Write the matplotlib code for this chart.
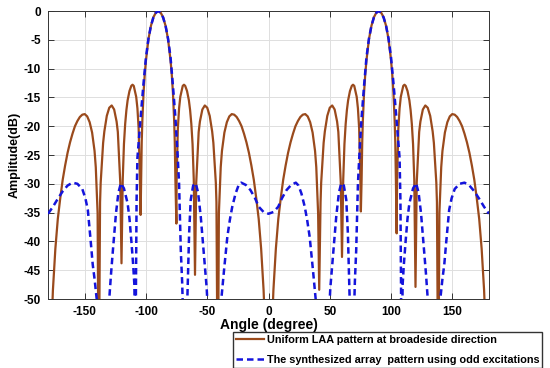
import matplotlib
matplotlib.use("Agg")
import matplotlib.pyplot as plt

# uniform LAA pattern at broadside (dB)
uni_ang = [-180, -178, -176, -174, -172, -170, -168, -166, -164, -162, -160, -158, -156, -154,
           -152, -150, -148, -146, -144, -142, -141, -139.5, -138.6, -137.5, -137, -135, -134,
           -132, -130, -128, -126, -124, -123, -121, -120, -119, -118, -117, -116, -115, -113.5,
           -112, -111, -110, -108, -107, -106, -105, -104.4, -104, -103.5, -103, -102, -101, -100,
           -98, -96, -94, -92, -90, -88, -86, -84, -82, -80, -79, -78, -77, -76.5, -76, -75.2,
           -75, -74, -73, -72, -70, -69, -68, -66.5, -65, -64, -63, -62, -61, -60, -59, -57, -56,
           -54, -52, -50, -48, -46, -45, -43, -42.5, -41.4, -40.5, -39, -38, -36, -34, -32, -30,
           -28, -26, -24, -22, -20, -18, -16, -14, -12, -10, -8, -6, -4, -2, 0,
           2, 4, 6, 8, 10, 12, 14, 16, 18, 20, 22, 24, 26, 28, 30, 32, 34, 36, 38, 39, 40.5, 41.4,
           42.5, 43, 45, 46, 48, 50, 52, 54, 56, 57, 59, 60, 61, 62, 63, 64, 65, 66.5, 68, 69, 70,
           72, 73, 74, 75, 75.4, 76, 76.5, 77, 78, 79, 80, 82, 84, 86, 88, 90, 92, 94, 96, 98, 100,
           101, 102, 103, 103.5, 104, 104.6, 105, 106, 107, 108, 110, 111, 112, 113.5, 115, 116,
           117, 118, 119, 120, 121, 123, 124, 126, 128, 130, 132, 134, 135, 137, 137.5, 138.6,
           139.5, 141, 142, 144, 146, 148, 150, 152, 154, 156, 158, 160, 162, 164, 166, 168, 170,
           172, 174, 176, 178, 180]
uni_db = [-70, -60, -48.5, -41.3, -36.1, -32.5, -29.3, -26.8, -24.6, -22.8, -21.3, -20.0, -19.1, -18.4,
          -18.0, -17.9, -18.3, -19.3, -21.1, -24.3, -27.1, -35.1, -70, -33.2, -29.8, -22.9, -20.9,
          -18.2, -16.8, -16.4, -17.1, -19.2, -21.0, -29.8, -43.8, -29.3, -23.1, -19.6, -17.2, -15.5, -13.9,
          -13.0, -12.8, -13.0, -14.9, -16.9, -20.4, -29.2, -35.4, -29.3, -22.8, -19.1, -14.2, -10.9, -8.5,
          -4.9, -2.6, -1.1, -0.3, 0, -0.3, -1.1, -2.6, -4.9, -8.5, -10.9, -14.2, -19.1, -22.8, -29.3, -36.9,
          -29.2, -20.4, -16.9, -14.9, -13.0, -12.8, -13.0, -13.9, -15.5, -17.2, -19.6, -23.1, -29.3, -45.8, -29.8, -21.0, -19.2,
          -17.1, -16.4, -16.8, -18.2, -20.9, -22.9, -29.8, -33.2, -70, -35.1, -27.1, -24.3, -21.1, -19.3, -18.3, -17.9,
          -18.0, -18.4, -19.1, -20.0, -21.3, -22.8, -24.6, -26.8, -29.3, -32.5, -36.1, -41.3, -48.5, -60, -70,
          -60, -48.5, -41.3, -36.1, -32.5, -29.3, -26.8, -24.6, -22.8, -21.3, -20.0, -19.1, -18.4, -18.0, -17.9, -18.3, -19.3, -21.1, -24.3, -27.1, -35.1, -48.4,
          -33.2, -29.8, -22.9, -20.9, -18.2, -16.8, -16.4, -17.1, -19.2, -21.0, -29.8, -42.7, -29.3, -23.1, -19.6, -17.2, -15.5, -13.9, -13.0, -12.8, -13.0,
          -14.9, -16.9, -20.4, -29.2, -34.8, -29.3, -22.8, -19.1, -14.2, -10.9, -8.5, -4.9, -2.6, -1.1, -0.3, 0, -0.3, -1.1, -2.6, -4.9, -8.5,
          -10.9, -14.2, -19.1, -22.8, -29.3, -38.6, -29.2, -20.4, -16.9, -14.9, -13.0, -12.8, -13.0, -13.9, -15.5, -17.2,
          -19.6, -23.1, -29.3, -47.9, -29.8, -21.0, -19.2, -17.1, -16.4, -16.8, -18.2, -20.9, -22.9, -29.8, -33.2, -70,
          -35.1, -27.1, -24.3, -21.1, -19.3, -18.3, -17.9, -18.0, -18.4, -19.1, -20.0, -21.3, -22.8, -24.6, -26.8, -29.3, -32.5,
          -36.1, -41.3, -48.5, -60, -70]

# synthesized array pattern with odd excitations (dB)
syn_ang = [-180, -176, -172, -168, -164, -160, -156, -152, -149.5, -147.5, -145, -143.5, -142, -140,
           -138, -135, -132, -130, -128.5, -127, -124.5, -122.5, -120.5, -118, -115, -113.5, -112,
           -110.5, -109.5, -109, -108.6, -108.2, -107.7, -107, -106, -104, -102, -100, -98, -96,
           -94, -92, -90, -88, -86, -84, -82, -80, -78, -76, -74.4, -73, -71.6, -70.5, -69.5, -68,
           -66.5, -65.5, -64.8, -63.5, -61.5, -59.4, -57.5, -55.3, -54, -52.6, -50.5, -49, -45,
           -41, -38.5, -36.3, -33.6, -31.5, -29.6, -26.9, -24.5, -22.3, -18.5, -14.7, -11, -7.9,
           -4, 0, 4, 7.9, 11, 14.7, 18.5, 22.3, 24.5, 26.9, 29.6, 31.5, 33.6, 36.3, 38.5, 41, 45,
           49, 50.5, 52.6, 54, 55.3, 57.5, 59.4, 61.5, 63.5, 64.8, 65.5, 66.5, 68, 69.5, 70.5,
           71.6, 73, 74.4, 76, 78, 80, 82, 84, 86, 88, 90, 92, 94, 96, 98, 100, 102, 104, 106, 107,
           107.7, 108.2, 108.6, 109, 109.5, 110.5, 112, 113.5, 115, 118, 120.5, 122.5, 124.5, 127,
           128.5, 130, 132, 135, 138, 140, 142, 143.5, 145, 147.5, 149.5, 152, 156, 160, 164, 168,
           172, 176, 180]
syn_db = [-35.2, -34.0, -32.6, -31.3, -30.3, -29.8, -30.0, -30.9, -32.5, -34.5, -40.3, -44.0, -46.5, -50.5,
          -58, -66, -57, -50, -45.5, -41.5, -35.1, -31.5, -29.9, -30.8, -33.4, -36.0, -39.8,
          -44.0, -47.5, -55, -65, -48, -33, -25.5, -22.8, -17.5, -12.5, -8.0, -4.8, -2.6,
          -1.15, -0.3, 0, -0.3, -1.15, -2.6, -4.8, -8.0, -13.0, -18.5, -24.1, -30, -41.5, -47, -55, -66,
          -52, -44, -38.6, -32.8, -30.3, -29.9, -31.5, -35.7, -39, -42.7, -48, -54, -66,
          -56, -50, -45, -39.2, -36.2, -34, -31.7, -30.3, -29.8, -30.2, -31.1, -32.5, -34,
          -34.9, -35.2, -34.9, -34, -32.5, -31.1, -30.2, -29.8, -30.3, -31.7, -34, -36.2, -39.2, -45, -50, -56, -66,
          -54, -48, -42.7, -39, -35.7, -31.5, -29.9, -30.3, -32.8, -38.6, -44, -52, -66, -55, -47,
          -41.5, -30, -24.1, -18.5, -13.0, -8.0, -4.8, -2.6, -1.15, -0.3, 0, -0.3, -1.15, -2.6, -4.8, -8.0, -12.5, -17.5, -22.8, -25.5,
          -33, -48, -65, -55, -47.5, -44.0, -39.8, -36.0, -33.4, -30.8, -29.9, -31.5, -35.1, -41.5,
          -45.5, -50, -57, -66, -58, -50.5, -46.5, -44.0, -40.3, -34.5, -32.5, -30.9, -30.0, -29.8, -30.3, -31.3,
          -32.6, -34.0, -35.2]

x_ticks = [-150, -100, -50, 0, 50, 100, 150]
y_ticks = [0, -5, -10, -15, -20, -25, -30, -35, -40, -45, -50]
labels = ["Uniform LAA pattern at broadeside direction",
          "The synthesized array  pattern using odd excitations"]

plt.rcParams["font.family"] = ["Liberation Sans", "DejaVu Sans"]
plt.rcParams["font.weight"] = "bold"
plt.rcParams["axes.unicode_minus"] = False

fig = plt.figure(figsize=(5.5, 3.68), dpi=100)
ax = fig.add_axes([48 / 550, 1 - 299 / 368, (489 - 48) / 550, (299 - 11) / 368])

ax.plot(uni_ang, uni_db, color="#9a4a1c", lw=1.6, label=labels[0], zorder=3)
ax.plot(syn_ang, syn_db, color="#1414dc", lw=1.8, ls=(0, (2.6, 1.6)), label=labels[1], zorder=4)

ax.set_xlim(-180, 180)
ax.set_ylim(-50, 0)
ax.set_xticks(x_ticks)
ax.set_yticks(y_ticks)
ax.grid(True, color="#dedede", lw=0.7)
ax.set_axisbelow(True)
ax.tick_params(direction="in", top=True, right=True, length=4, width=0.7,
               color="#333333", labelsize=8.5, pad=5)
for s in ax.spines.values():
    s.set_color("#333333")
    s.set_linewidth(0.7)

ax.set_xlabel("Angle (degree)", fontsize=10, fontweight="bold", labelpad=0)
ax.set_ylabel("Amplitude(dB)", fontsize=9, fontweight="bold", labelpad=2)

leg = fig.legend(loc="upper left", bbox_to_anchor=(233 / 550, 1 - 332 / 368),
                 borderaxespad=0, fontsize=7.8, frameon=True, fancybox=False,
                 edgecolor="black", handlelength=2.6, handletextpad=0.25,
                 labelspacing=0.95, borderpad=0.25)
leg.get_frame().set_linewidth(1.0)

fig.savefig("out.png", dpi=100)
